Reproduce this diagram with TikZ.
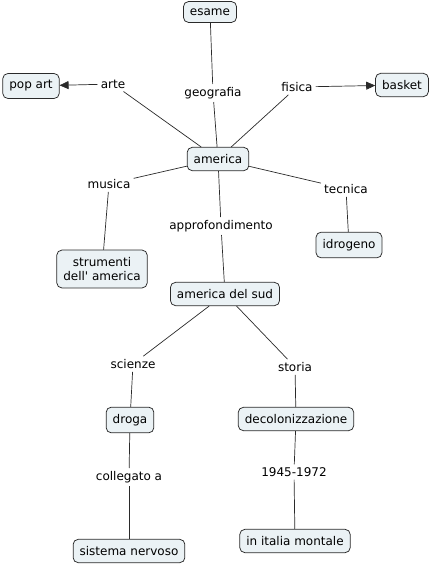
\documentclass[tikz,border=0pt]{standalone}
\usepackage{fontspec}
\setmainfont{DejaVu Sans}
\usetikzlibrary{arrows.meta}
\definecolor{conceptfill}{HTML}{EBF2F5}
\definecolor{linkgray}{HTML}{2A2A2A}
\begin{document}
\begin{tikzpicture}[
	x=1pt, y=-1pt,
	concept/.style={ draw=linkgray, fill=conceptfill, rounded corners=5pt, font=\fontsize{12}{14.5}\selectfont, align=center, inner xsep=6.5pt, inner ysep=7pt, line width=0.75pt },
	phrase/.style={ font=\fontsize{12}{14.5}\selectfont, inner sep=3pt },
	link/.style={ draw=linkgray, line width=0.7pt },
	arrowlink/.style={ link, -{Triangle[length=9pt,width=8pt]} }
]
\useasboundingbox (0,0) rectangle (432,566);

\node at (218,159) (america) [concept] {america};

\node at (210,12) (esame) [concept] {esame};
\node at (31,86) (popart) [concept] {pop art};
\node at (402,85) (basket) [concept] {basket};
\node at (213,93) (geografia) [phrase] {geografia};
\node at (113,84) (arte) [phrase] {arte};
\node at (297,87) (fisica) [phrase] {fisica};
\foreach \p in {geografia,arte,fisica} \draw [link] (america) to (\p);
\draw [link] (geografia) to (esame);
\draw [arrowlink] (arte) to (popart);
\draw [arrowlink] (fisica) to (basket);

\node at (102,269) (strumenti) [concept] {strumenti\\dell\textquotesingle{} america};
\node at (349,245) (idrogeno) [concept] {idrogeno};
\node at (225,294) (americasud) [concept] {america del sud};
\node at (109,184) (musica) [phrase] {musica};
\node at (346,189) (tecnica) [phrase] {tecnica};
\node at (221,226) (approfondimento) [phrase] {approfondimento};
\foreach \p in {musica,tecnica,approfondimento} \draw [link] (america) to (\p);
\draw [link] (musica) to (strumenti);
\draw [link] (tecnica) to (idrogeno);
\draw [link] (approfondimento) to (americasud);

\node at (130,420) (droga) [concept] {droga};
\node at (296,419) (decolonizzazione) [concept] {decolonizzazione};
\node at (133,364) (scienze) [phrase] {scienze};
\node at (295,367) (storia) [phrase] {storia};
\foreach \p in {scienze,storia} \draw [link] (americasud) to (\p);
\draw [link] (scienze) to (droga);
\draw [link] (storia) to (decolonizzazione);

\node at (129,551) (sistema) [concept] {sistema nervoso};
\node at (295,541) (montale) [concept] {in italia montale};
\node at (129,477) (collegato) [phrase] {collegato a};
\node at (294,472) (anni) [phrase] {1945-1972};
\draw [link] (droga) to (collegato);
\draw [link] (collegato) to (sistema);
\draw [link] (decolonizzazione) to (anni);
\draw [link] (anni) to (montale);

\end{tikzpicture}
\end{document}
